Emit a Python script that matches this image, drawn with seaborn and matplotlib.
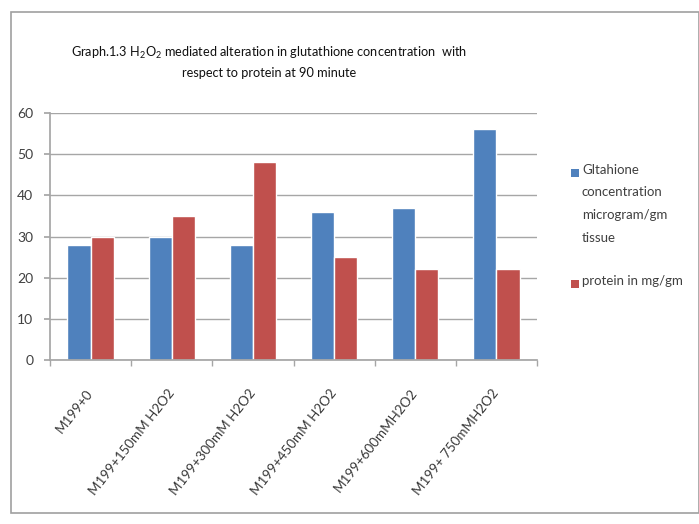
import matplotlib
matplotlib.use("Agg")
import matplotlib.pyplot as plt
import seaborn as sns
import pandas as pd
from matplotlib.patches import Rectangle

categories = ["M199+0", "M199+150mM H2O2", "M199+300mM H2O2", "M199+450mM H2O2",
              "M199+600mMH2O2", "M199+ 750mMH2O2"]
glutathione = [28, 30, 28, 36, 37, 56]
protein = [30, 35, 48, 25, 22, 22]
series_names = ["Gltahione\nconcentration\nmicrogram/gm\ntissue", "protein in mg/gm"]
yticks = [0, 10, 20, 30, 40, 50, 60]

colors = ["#4F81BD", "#C0504D"]

sns.set_theme(style="white")
plt.rcParams["font.family"] = ["Lato", "DejaVu Sans"]
plt.rcParams["mathtext.fontset"] = "custom"
plt.rcParams["mathtext.rm"] = "Lato"
plt.rcParams["mathtext.it"] = "Lato"

df = pd.DataFrame({
    "category": categories * 2,
    "value": glutathione + protein,
    "series": [series_names[0]] * len(categories) + [series_names[1]] * len(categories),
})

fig = plt.figure(figsize=(6.99, 5.24), dpi=100)
W, H = 699, 524
ax = fig.add_axes([50 / W, 1 - 360 / H, (537 - 50) / W, (360 - 113) / H])

sns.barplot(data=df, x="category", y="value", hue="series", palette=colors,
            width=0.57, gap=0, saturation=1, ax=ax, legend=False, errorbar=None)

ax.set_ylim(0, 60)
ax.set_xlim(-0.5, len(categories) - 0.5)
ax.set_yticks(yticks)
ax.yaxis.grid(True, color="#A6A6A6", linewidth=1.0)
ax.set_axisbelow(True)
ax.set_xlabel("")
ax.set_ylabel("")
for s in ["top", "right"]:
    ax.spines[s].set_visible(False)
ax.spines["left"].set_color("#A6A6A6")
ax.spines["bottom"].set_color("#A6A6A6")
ax.tick_params(axis="y", left=True, length=4, color="#A6A6A6", labelsize=10,
               labelcolor="#404040", pad=8)
ax.set_xticks(range(len(categories)))
ax.set_xticklabels(categories, rotation=52, ha="right", va="center",
                   rotation_mode="anchor", fontsize=9.6, color="#383838")
ax.tick_params(axis="x", bottom=False, pad=16)
ax.set_xticks([i - 0.5 for i in range(len(categories) + 1)], minor=True)
ax.tick_params(axis="x", which="minor", bottom=True, length=4, color="#A6A6A6")

# chart area frame
fig.patches.append(Rectangle((11 / W, 1 - 513 / H), (W - 11) / W, (513 - 12) / H,
                             transform=fig.transFigure, fill=False,
                             edgecolor="#A0A0A0", linewidth=1.2))

# title
fig.text(269 / W, 1 - 53 / H,
         r"Graph.1.3 H$_2$O$_2$ mediated alteration in glutathione concentration  with",
         ha="center", va="center", fontsize=9.2, color="#111111")
fig.text(269 / W, 1 - 73 / H, "respect to protein at 90 minute",
         ha="center", va="center", fontsize=9.2, color="#111111")

# legend
leg_y = [173, 284]
for c, name, yy in zip(colors, series_names, leg_y):
    fig.patches.append(Rectangle((571 / W, 1 - (yy + 4) / H), 8 / W, 8 / H,
                                 transform=fig.transFigure, facecolor=c, edgecolor="none"))
    fig.text(582 / W, 1 - (yy - 9) / H, name, ha="left", va="top", fontsize=9.5,
             color="#404040", linespacing=2.05)

fig.savefig("out.png", dpi=100)
